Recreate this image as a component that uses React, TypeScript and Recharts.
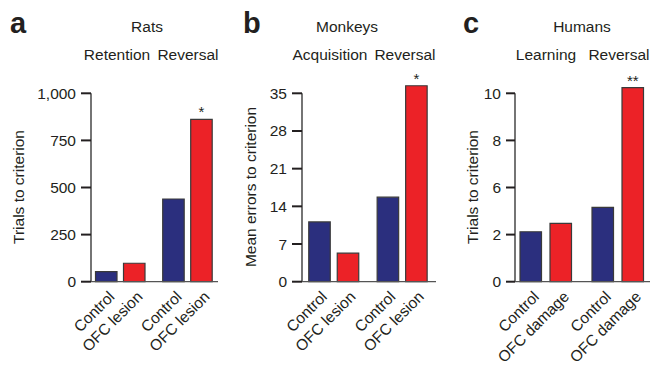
import React from 'react';
import { BarChart, Bar, XAxis, YAxis, Cell, LabelList, ReferenceLine } from 'recharts';

// bar labels, per panel
const lesionGroups = ['Control', 'OFC lesion', 'Control', 'OFC lesion'];
const damageGroups = ['Control', 'OFC damage', 'Control', 'OFC damage'];

// values
const ratTrials = [53, 98, 439, 862];
const monkeyErrors = [11.1, 5.3, 15.7, 36.4];
const humanTrials = [2.65, 3.1, 3.95, 10.3];

const ratSig = ['', '', '', '*'];
const monkeySig = ['', '', '', '*'];
const humanSig = ['', '', '', '**'];

const ratTicks = [0, 250, 500, 750, 1000];
const monkeyTicks = [0, 7, 14, 21, 28, 35];
const humanTicks = [0, 2.5, 5, 7.5, 10];
const humanTickLabels = ['0', '2', '6', '8', '10'];

const FONT = '"Liberation Sans", Arial, Helvetica, sans-serif';
const INK = '#231f20';
const NAVY = '#2b2f7e';
const RED = '#ec2227';
const FILLS = [NAVY, RED, NAVY, RED];
// x slot of each bar: two pairs with a wider gap between them
const SLOTS = [0, 1, 2.4, 3.4];

const W = 652;
const H = 365;
const AXIS_Y = 281.7;
const TICK_TOP = 93.3;
const YAXIS_W = 60;
const XAXIS_H = 70;

interface PanelProps {
  names: string[];
  values: number[];
  sig: string[];
  ticks: number[];
  tickLabel: (v: number, i: number) => string;
  domainMax: number;
  axisX: number;
  firstX: number;
  rightX: number;
  unit: number;
  tickSize: number;
}

const Panel = ({ names, values, sig, ticks, tickLabel, domainMax, axisX, firstX, rightX, unit, tickSize }: PanelProps) => {
  const data = values.map((v, i) => ({ pos: SLOTS[i], value: v, name: names[i], sig: sig[i] }));
  const xMin = (axisX - firstX) / unit;
  const xMax = (rightX - firstX) / unit;
  const tickMax = ticks[ticks.length - 1];
  const plotTop = AXIS_Y - ((AXIS_Y - TICK_TOP) * domainMax) / tickMax;

  const XTick = (p: any) => {
    const tx = p.x + 9;
    const ty = p.y + 16;
    return (
      <text x={tx} y={ty} transform={`rotate(-45, ${tx}, ${ty})`} textAnchor="end"
        fontSize={15.5} fontFamily={FONT} fill={INK}>
        {names[p.index]}
      </text>
    );
  };

  return (
    <div style={{ position: 'absolute', left: 0, top: 0 }}>
      <BarChart
        width={W}
        height={H}
        data={data}
        margin={{ top: plotTop, left: axisX - YAXIS_W, right: W - rightX, bottom: H - AXIS_Y - XAXIS_H }}
      >
        <XAxis
          type="number"
          dataKey="pos"
          domain={[xMin, xMax]}
          ticks={SLOTS}
          interval={0}
          height={XAXIS_H}
          tickLine={false}
          tickSize={0}
          tickMargin={0}
          axisLine={{ stroke: '#555', strokeWidth: 1.3 }}
          tick={XTick}
        />
        <YAxis
          type="number"
          domain={[0, domainMax]}
          ticks={ticks}
          interval={0}
          width={YAXIS_W}
          axisLine={false}
          tickSize={tickSize}
          tickMargin={5}
          tickLine={{ stroke: INK, strokeWidth: 2 }}
          tickFormatter={tickLabel}
          tick={{ fontSize: 15.5, fontFamily: FONT, fill: INK }}
        />
        <ReferenceLine
          segment={[{ x: xMin, y: 0 }, { x: xMin, y: tickMax }]}
          stroke="#3a3a3a"
          strokeWidth={1.4}
          ifOverflow="visible"
        />
        <Bar dataKey="value" barSize={21.5} isAnimationActive={false} stroke="#3a3a3a" strokeWidth={1.2}>
          {data.map((d, i) => (
            <Cell key={i} fill={FILLS[i]} />
          ))}
          <LabelList dataKey="sig" position="top" offset={2} fill={INK} fontSize={15} fontFamily={FONT} />
        </Bar>
      </BarChart>
    </div>
  );
};

const Headers = () => {
  const t = { fontFamily: FONT, fill: INK, fontSize: 15.5 } as const;
  const letter = { fontFamily: FONT, fill: INK, fontSize: 29, fontWeight: 700 } as const;
  const yTitle = (x: number, label: string) => (
    <text transform={`translate(${x}, 187) rotate(-90)`} textAnchor="middle" dominantBaseline="central" {...t}>
      {label}
    </text>
  );
  return (
    <svg width={W} height={H} style={{ position: 'absolute', left: 0, top: 0, pointerEvents: 'none' }}>
      <text x={10} y={33} {...letter}>a</text>
      <text x={243} y={33} {...letter}>b</text>
      <text x={463} y={33} {...letter}>c</text>

      <text x={147} y={32} textAnchor="middle" {...t}>Rats</text>
      <text x={117} y={60} textAnchor="middle" {...t}>Retention</text>
      <text x={188} y={60} textAnchor="middle" {...t}>Reversal</text>

      <text x={347} y={32} textAnchor="middle" {...t}>Monkeys</text>
      <text x={330} y={60} textAnchor="middle" {...t}>Acquisition</text>
      <text x={405} y={60} textAnchor="middle" {...t}>Reversal</text>

      <text x={582} y={32} textAnchor="middle" {...t}>Humans</text>
      <text x={546} y={60} textAnchor="middle" {...t}>Learning</text>
      <text x={619} y={60} textAnchor="middle" {...t}>Reversal</text>

      {yTitle(18, 'Trials to criterion')}
      {yTitle(250, 'Mean errors to criterion')}
      {yTitle(472, 'Trials to criterion')}
    </svg>
  );
};

export default function App() {
  return (
    <div style={{ position: 'absolute', left: 0, top: 0, width: W, height: H, background: '#fff', overflow: 'hidden' }}>
      <Panel
        names={lesionGroups}
        values={ratTrials}
        sig={ratSig}
        ticks={ratTicks}
        tickLabel={(v) => v.toLocaleString('en-US')}
        domainMax={1000}
        axisX={91}
        firstX={106.5}
        rightX={218}
        unit={28}
        tickSize={10}
      />
      <Panel
        names={lesionGroups}
        values={monkeyErrors}
        sig={monkeySig}
        ticks={monkeyTicks}
        tickLabel={(v) => String(v)}
        domainMax={37.5}
        axisX={302}
        firstX={319}
        rightX={436}
        unit={28.5}
        tickSize={10}
      />
      <Panel
        names={damageGroups}
        values={humanTrials}
        sig={humanSig}
        ticks={humanTicks}
        tickLabel={(v, i) => humanTickLabels[i]}
        domainMax={10.8}
        axisX={515}
        firstX={531}
        rightX={650}
        unit={30}
        tickSize={9}
      />
      <Headers />
    </div>
  );
}
